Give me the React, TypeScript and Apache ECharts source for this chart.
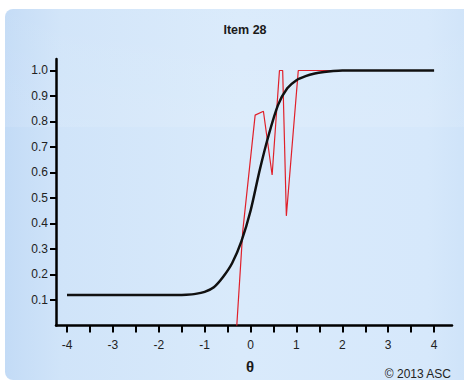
import React, { useEffect, useRef } from "react";
import * as echarts from "echarts";

const titleText = "Item 28";
const xAxisName = "θ";
const creditText = "© 2013 ASC";

const thetaModel = [-4, -3, -2, -1.6, -1.4, -1.2, -1.0, -0.8, -0.6, -0.4, -0.2, 0, 0.2, 0.4, 0.6, 0.8, 1.0, 1.2, 1.4, 1.6, 1.8, 2, 3, 4];
const probModel = [0.12, 0.12, 0.12, 0.12, 0.121, 0.124, 0.132, 0.15, 0.19, 0.245, 0.33, 0.45, 0.61, 0.75, 0.865, 0.93, 0.962, 0.978, 0.988, 0.994, 0.998, 1, 1, 1];

const thetaEmp = [-0.3, -0.17, 0.1, 0.28, 0.47, 0.63, 0.7, 0.78, 1.04, 1.75];
const probEmp = [0, 0.37, 0.825, 0.84, 0.59, 1.0, 1.0, 0.43, 1.0, 1.0];

const xTicks = [-4, -3.5, -3, -2.5, -2, -1.5, -1, -0.5, 0, 0.5, 1, 1.5, 2, 2.5, 3, 3.5, 4];
const xLabels = [-4, -3, -2, -1, 0, 1, 2, 3, 4];
const yTicks = [0.1, 0.2, 0.3, 0.4, 0.5, 0.6, 0.7, 0.8, 0.9, 1.0];

export default function App() {
  const ref = useRef<HTMLDivElement>(null);
  useEffect(() => {
    document.body.style.margin = "0";
    const chart = echarts.init(ref.current!, null, { renderer: "svg" });
    const font = "'Liberation Sans', Arial, sans-serif";
    chart.setOption({
      animation: false,
      graphic: [
        {
          type: "rect",
          z: -10,
          shape: { x: 5, y: 9, width: 470, height: 371, r: 8 },
          style: {
            fill: new echarts.graphic.LinearGradient(0, 0, 1, 0, [
              { offset: 0, color: "#c3dbf6" },
              { offset: 0.12, color: "#d0e4f9" },
              { offset: 0.5, color: "#d9eafb" },
              { offset: 0.9, color: "#d6e8fb" },
              { offset: 1, color: "#cde2f8" },
            ]),
          },
        },
        {
          type: "rect",
          z: -9,
          shape: { x: 5, y: 9, width: 470, height: 118, r: [8, 8, 0, 0] },
          style: {
            fill: new echarts.graphic.LinearGradient(0, 0, 0, 1, [
              { offset: 0, color: "rgba(255,255,255,0.04)" },
              { offset: 1, color: "rgba(255,255,255,0.10)" },
            ]),
          },
        },
        {
          type: "text",
          z: 5,
          x: 245,
          y: 23,
          style: { text: titleText, font: `bold 12.5px ${font}`, fill: "#1a1a1a", textAlign: "center" },
        },
        {
          type: "text",
          z: 5,
          x: 451,
          y: 368,
          style: { text: creditText, font: `12px ${font}`, fill: "#222", textAlign: "right" },
        },
        {
          type: "text",
          z: 5,
          x: 250,
          y: 359,
          style: { text: xAxisName, font: `bold 15px ${font}`, fill: "#1a1a1a", textAlign: "center" },
        },
      ],
      grid: { left: 56, right: 12, top: 59, bottom: 57.5, containLabel: false },
      xAxis: {
        type: "value",
        min: -4.24,
        max: 4.39,
        splitLine: { show: false },
        axisLine: { onZero: false, lineStyle: { color: "#000", width: 2.5 } },
        axisTick: { customValues: xTicks, length: 7, lineStyle: { color: "#000", width: 2 } },
        axisLabel: {
          customValues: xLabels,
          margin: 13,
          color: "#222",
          fontSize: 12,
          fontFamily: font,
          formatter: (v: number) => String(v),
        },
      },
      yAxis: {
        type: "value",
        min: 0,
        max: 1.045,
        splitLine: { show: false },
        axisLine: { onZero: false, lineStyle: { color: "#000", width: 2.5 } },
        axisTick: { customValues: yTicks, length: 6, lineStyle: { color: "#000", width: 2 } },
        axisLabel: {
          customValues: yTicks,
          margin: 8,
          color: "#222",
          fontSize: 12,
          fontFamily: font,
          formatter: (v: number) => v.toFixed(1),
        },
      },
      series: [
        {
          type: "line",
          data: thetaEmp.map((t, i) => [t, probEmp[i]]),
          showSymbol: false,
          lineStyle: { color: "#e0202a", width: 1.2 },
          z: 2,
        },
        {
          type: "line",
          data: thetaModel.map((t, i) => [t, probModel[i]]),
          showSymbol: false,
          smooth: 0.25,
          lineStyle: { color: "#111", width: 2.5 },
          z: 3,
        },
      ],
    });
    return () => chart.dispose();
  }, []);
  return <div ref={ref} style={{ width: 464, height: 383, background: "#fff" }} />;
}
